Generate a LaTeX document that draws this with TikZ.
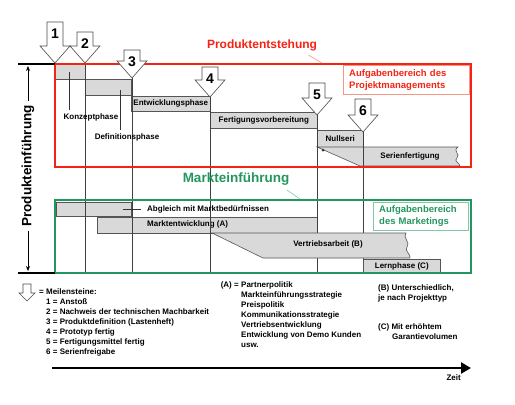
\documentclass[tikz,border=0pt]{standalone}
\usepackage{fontspec}
\setmainfont{Liberation Sans}
\usetikzlibrary{arrows.meta,positioning}

\definecolor{pered}{RGB}{245,35,20}
\definecolor{palered}{RGB}{245,150,130}
\definecolor{mkgreen}{RGB}{35,150,95}
\definecolor{palegreen}{RGB}{130,200,165}
\definecolor{barfill}{RGB}{217,217,217}
\definecolor{barline}{RGB}{85,85,85}

\newcommand\smallbf{\fontsize{8}{10}\selectfont\bfseries}

\tikzset{
  barpath/.style={draw=barline, fill=barfill, line width=0.6pt},
  bar/.style={barpath, inner sep=0pt, font=\smallbf, anchor=north west},
  msline/.style={draw=black!75, line width=0.6pt},
  lead/.style={draw=black!80, line width=0.5pt},
  msarrow/.style={draw=black!70, fill=white, line width=0.6pt},
  txt/.style={font=\smallbf, inner sep=0pt, align=left},
  areabox/.style={inner xsep=6pt, inner ysep=0pt, anchor=north west, align=left,
    font=\fontsize{9.5}{12}\selectfont\bfseries},
}

% x, tip y, top y, name, number
\newcommand\milestone[5]{%
  \draw[msarrow] (#1-8,#3) -- (#1+8,#3) -- (#1+8,#2-17) -- (#1+15,#2-17)
    -- (#1,#2) -- (#1-15,#2-17) -- (#1-8,#2-17) -- cycle;
  \node[font=\fontsize{14}{14}\selectfont\bfseries, inner sep=0pt] (#4) at (#1,#3+12) {#5};
}

\begin{document}
\begin{tikzpicture}[x=1pt,y=-1pt]
  \useasboundingbox (0,0) rectangle (515,405);
  \coordinate (base) at (0,273);
  \foreach \n/\x/\y in {1/55/63,2/85/63,3/132/78,4/210/97,5/317/115,6/363/132}
    \coordinate (t\n) at (\x,\y);

  % phase bars
  \node[bar, minimum width=30pt, minimum height=15pt] (konz) at (55,64) {};
  \node[bar, minimum width=46pt, minimum height=16pt] (defi) at (85,79) {};
  \node[bar, minimum width=79pt, minimum height=15pt] (entw) at (131,96) {Entwicklungsphase};
  \node[bar, minimum width=107pt, minimum height=16pt] (fert) at (210,112) {Fertigungsvorbereitung};
  \node[bar, minimum width=46pt, minimum height=17pt] (null) at (317,130) {Nullseri\hspace{4pt}};
  \draw[barpath] (317,147) -- (458,147) .. controls (452,151) and (461,154) .. (457,158)
    .. controls (453,161) and (460,163) .. (460,166) -- (360,166) -- cycle;
  \fill[black!80] (323,150) circle (1.5);
  \node[font=\smallbf] (serie) at (410,156) {Serienfertigung};

  \node[bar, minimum width=75pt, minimum height=14pt] (abgl) at (56,202) {};
  \node[bar, minimum width=220pt, minimum height=16pt] (mkent) at (97,217) {};
  \node[txt, anchor=west] (mkentl) at (147,224) {Marktentwicklung (A)};

  % milestone lines
  \foreach \n in {2,...,6}
    \draw[msline] (t\n) -- (t\n |- base);

  \draw[barpath] (212,233) -- (406,233) .. controls (402,238) and (411,242) .. (407,247)
    .. controls (404,251) and (411,254) .. (410,258) -- (263,258) -- cycle;
  \node[font=\smallbf] (vert) at (328,244) {Vertriebsarbeit (B)};
  \node[bar, minimum width=77pt, minimum height=14pt] (lern) at (363,259) {Lernphase (C)};

  % labels of the first two phases
  \node[txt] (konzl) at (91,117) {Konzeptphase};
  \node[txt] (defil) at (127,137) {Definitionsphase};
  \coordinate (kp) at (69,72);
  \coordinate (dp) at (120,90);
  \draw[lead] (kp) -- ([yshift=3pt]kp |- konzl.north);
  \draw[lead] (dp) -- ([yshift=3pt]dp |- defil.north);
  \node[txt, anchor=west] (abgll) at (147,209) {Abgleich mit Marktbedürfnissen};
  \coordinate (ab) at (123,209);
  \draw[lead] (ab) -- ([xshift=-6pt]abgll.west);

  % areas
  \draw[pered, line width=2.2pt] (55,64) rectangle (471,167);
  \draw[mkgreen, line width=2.2pt] (55,200) rectangle (471,273);
  \node[areabox, draw=palered, text=pered, text width=114pt, minimum height=29pt] (pm) at (343,65)
    {Aufgabenbereich des\\Projektmanagements};
  \node[areabox, draw=palegreen, text=mkgreen, text width=83pt, minimum height=28pt] (mk) at (373,202)
    {Aufgabenbereich\\des Marketings};
  \node[text=pered, font=\fontsize{12}{12}\selectfont\bfseries] (pe) at (262,45) {Produktentstehung};
  \node[text=mkgreen, font=\fontsize{13.5}{13.5}\selectfont\bfseries] (me) at (236,179) {Markteinführung};
  \coordinate (pebox) at (322,63);
  \coordinate (mebox) at (300,199);
  \draw[palered, line width=0.6pt] ([xshift=-12pt,yshift=-1pt]pe.south east) -- (pebox);
  \draw[palegreen, line width=0.6pt] ([xshift=-6pt,yshift=-1pt]me.south east) -- (mebox);

  % milestones
  \milestone{55}{63}{22}{1}{1}
  \milestone{85}{63}{32}{2}{2}
  \milestone{132}{78}{50}{3}{3}
  \milestone{210}{97}{67}{4}{4}
  \milestone{317}{115}{83}{5}{5}
  \milestone{363}{132}{99}{6}{6}

  % product introduction
  \draw[line width=2.5pt] (18,64) -- (55,64);
  \draw[line width=2.5pt] (18,273) -- (55,273);
  \node[rotate=90, fill=white, inner sep=4pt, font=\fontsize{13.5}{13.5}\selectfont\bfseries] (pf) at (28,166) {Produkteinführung};
  \coordinate (pftop) at (28,66);
  \coordinate (pfbot) at (28,271);
  \draw[line width=0.8pt, -{Stealth[length=5pt,width=4pt]}] (pf.east) -- (pftop);
  \draw[line width=0.8pt, -{Stealth[length=5pt,width=4pt]}] (pf.west) -- (pfbot);

  % legend
  \draw[msarrow] (23,284) -- (31,284) -- (31,293) -- (35,293) -- (27,301) -- (19,293) -- (23,293) -- cycle;
  \node[txt, anchor=west] (mlgd) at (39,292) {= Meilensteine:};
  \node[txt, anchor=north west] (mlist) at (46,298) {1 = Anstoß\\2 = Nachweis der technischen Machbarkeit\\
    3 = Produktdefinition (Lastenheft)\\4 = Prototyp fertig\\5 = Fertigungsmittel fertig\\6 = Serienfreigabe};
  \node[txt, anchor=north west] (alist) at (241,281) {Partnerpolitik\\Markteinführungsstrategie\\Preispolitik\\
    Kommunikationsstrategie\\Vertriebsentwicklung\\Entwicklung von Demo Kunden\\usw.};
  \node[txt, anchor=north east] (alab) at ([xshift=-2pt]alist.north west) {(A) =};
  \node[txt, anchor=north west] (blab) at (378,284) {(B) Unterschiedlich,\\je nach Projekttyp};
  \node[txt, anchor=north west] (clab) at (378,323) {(C) Mit erhöhtem\\\hspace*{14pt}Garantievolumen};

  % time axis
  \coordinate (t0) at (52,368);
  \coordinate (tend) at (471,368);
  \draw[line width=2.5pt, -{Triangle[length=10pt,width=11pt]}] (t0) -- (tend);
  \node[txt, anchor=north east] (zeit) at (461,374) {Zeit};
\end{tikzpicture}
\end{document}
